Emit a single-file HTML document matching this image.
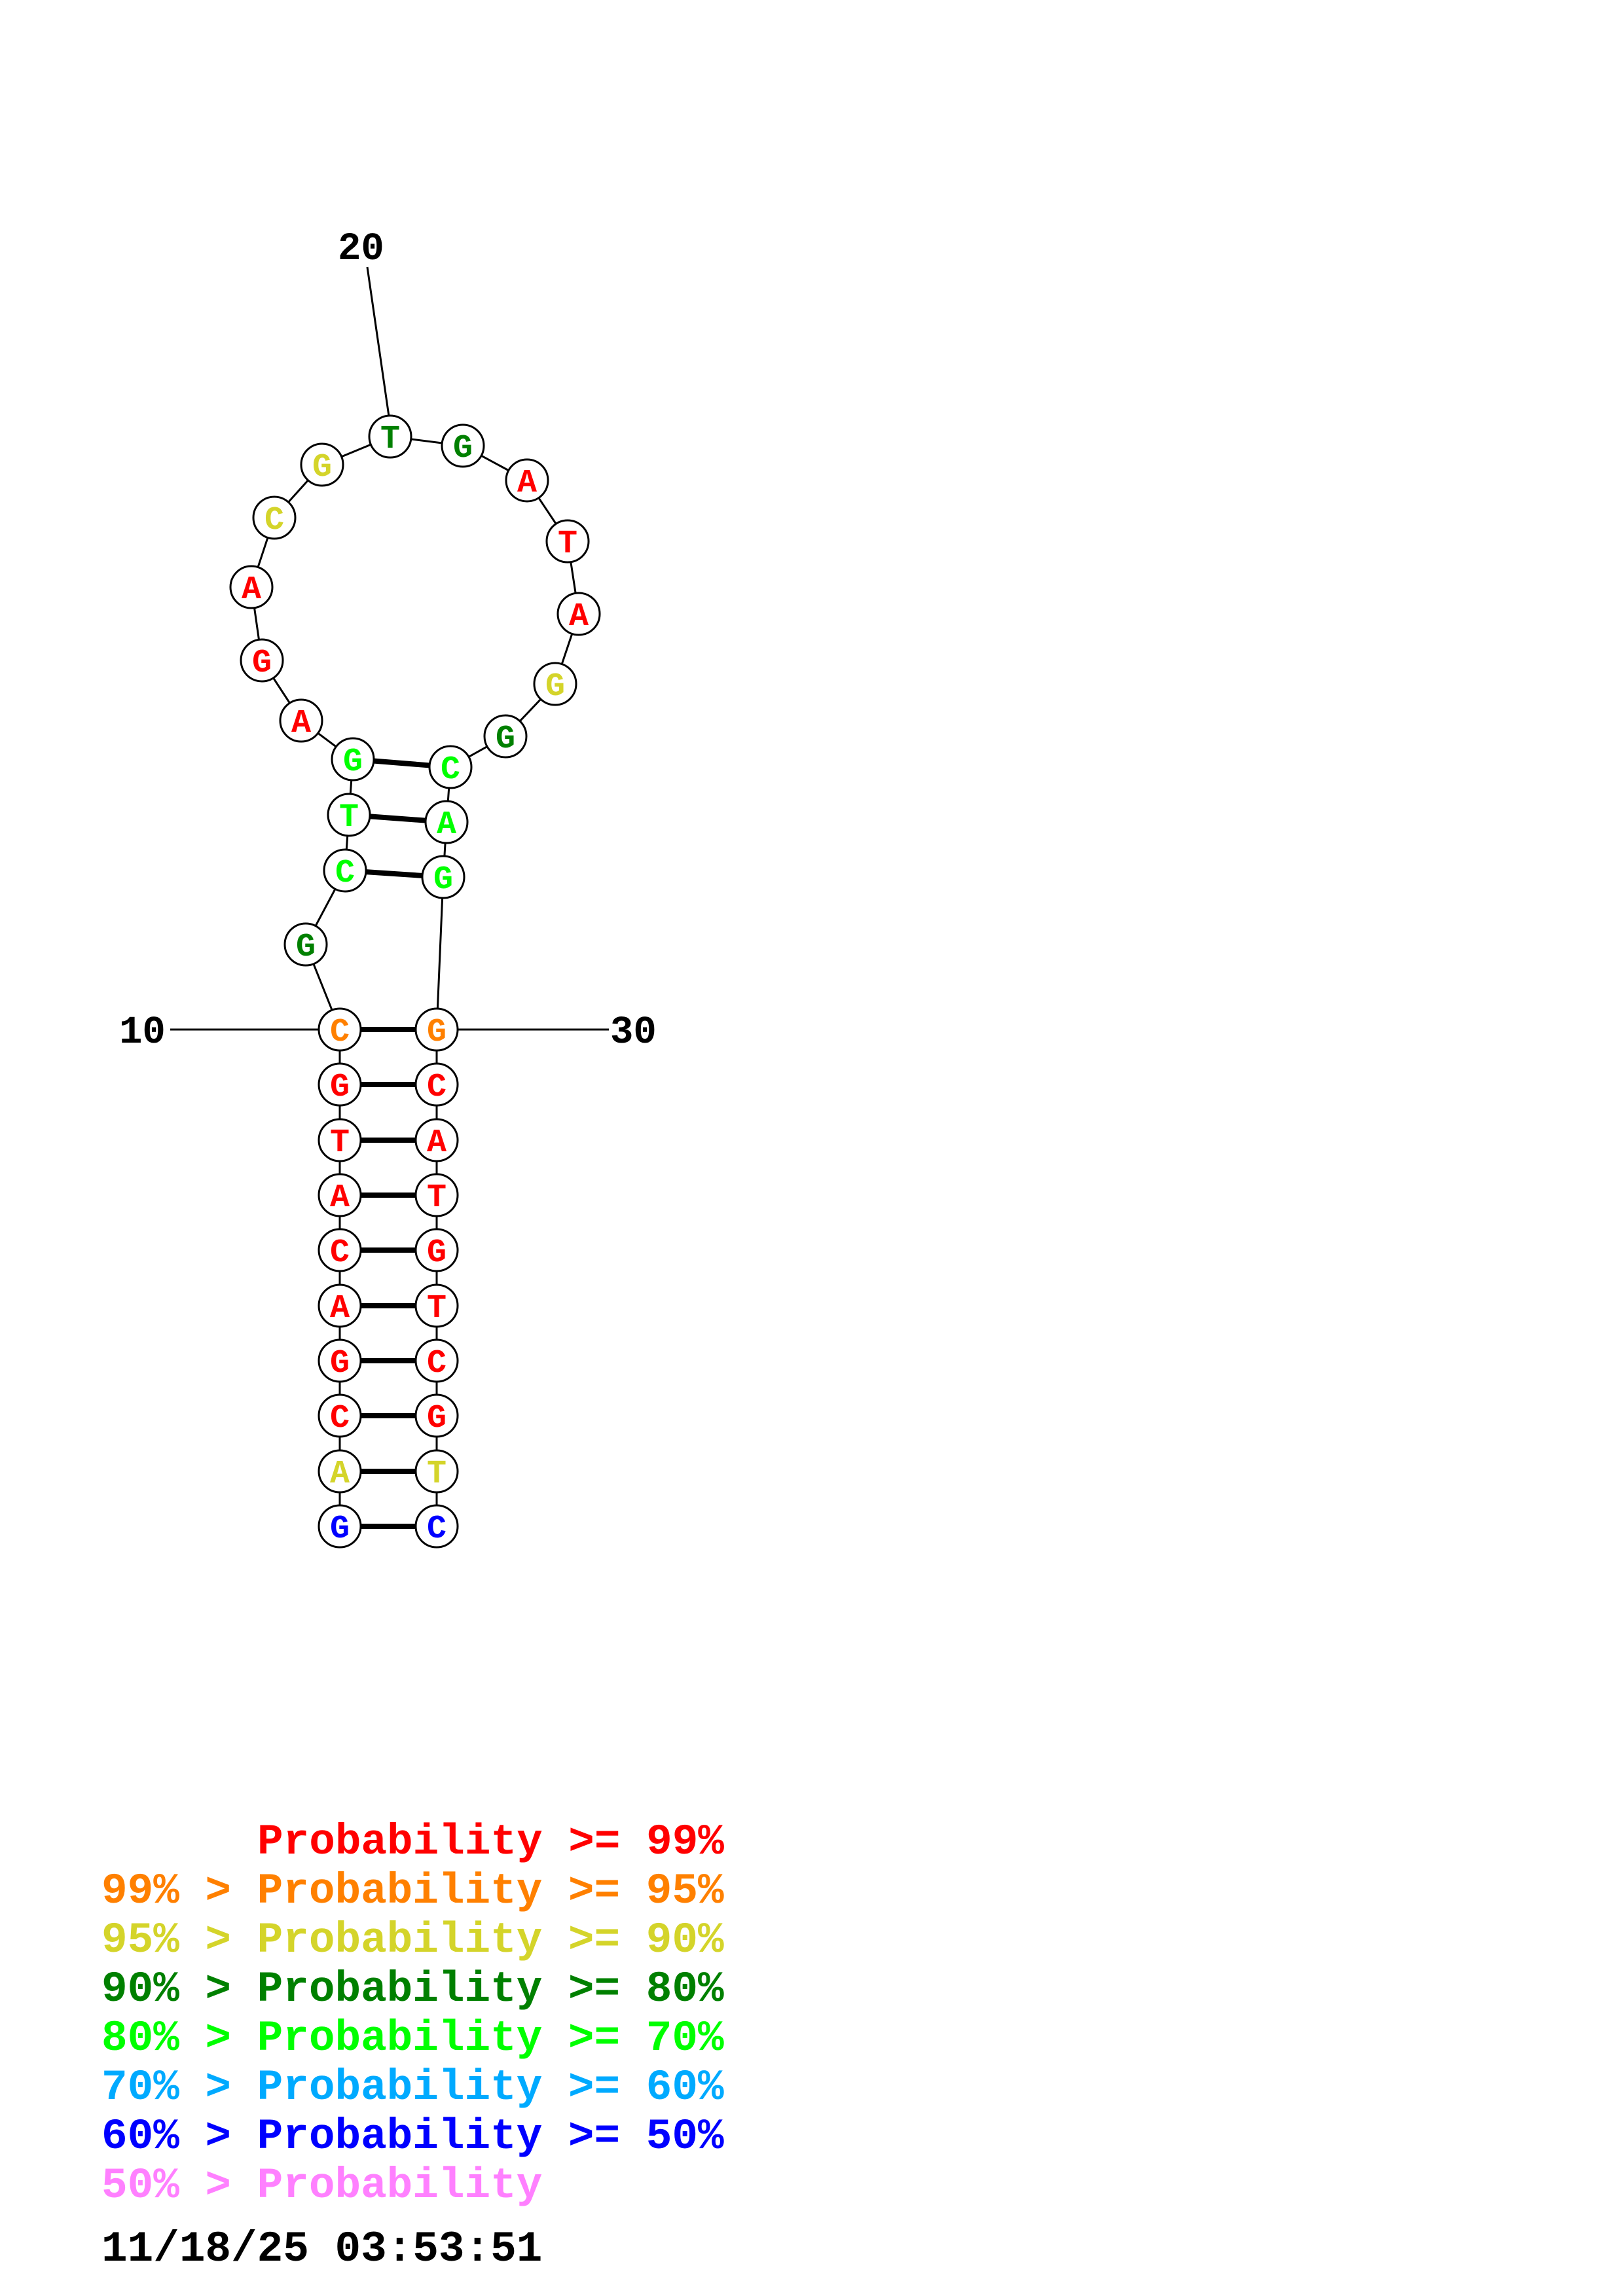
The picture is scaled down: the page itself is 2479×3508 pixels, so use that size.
<!DOCTYPE html>
<html><head><meta charset="utf-8"><style>
html,body{margin:0;padding:0;background:#fff;}
svg{display:block;}
text{font-family:"Liberation Mono",monospace;font-weight:bold;}
</style></head><body>
<svg width="2479" height="3508" viewBox="0 0 2479 3508" xmlns="http://www.w3.org/2000/svg">
<g stroke="#000" stroke-width="3" fill="none">
<line x1="561" y1="408" x2="594" y2="636"/>
<line x1="260" y1="1573" x2="488" y2="1573"/>
<line x1="700" y1="1573" x2="930" y2="1573"/>
<polyline points="519,2332 519,1573 467,1443 527,1330 533,1245 539,1160 460,1101 400,1009 384,897 419,791 492,710 596,667 707,681 805,734 867,827 884,938 848,1045 772,1125 688,1172 682,1256 677,1340 667,1573 667,2332"/>
</g>
<g stroke="#000" stroke-width="8">
<line x1="519" y1="1573" x2="667" y2="1573"/>
<line x1="519" y1="1657" x2="667" y2="1657"/>
<line x1="519" y1="1742" x2="667" y2="1742"/>
<line x1="519" y1="1826" x2="667" y2="1826"/>
<line x1="519" y1="1910" x2="667" y2="1910"/>
<line x1="519" y1="1995" x2="667" y2="1995"/>
<line x1="519" y1="2079" x2="667" y2="2079"/>
<line x1="519" y1="2163" x2="667" y2="2163"/>
<line x1="519" y1="2248" x2="667" y2="2248"/>
<line x1="519" y1="2332" x2="667" y2="2332"/>
<line x1="527" y1="1330" x2="677" y2="1340"/>
<line x1="533" y1="1245" x2="682" y2="1256"/>
<line x1="539" y1="1160" x2="688" y2="1172"/>
</g>
<g stroke="#000" stroke-width="3" fill="#fff">
<circle cx="519" cy="1573" r="32"/><circle cx="519" cy="1657" r="32"/><circle cx="519" cy="1742" r="32"/><circle cx="519" cy="1826" r="32"/><circle cx="519" cy="1910" r="32"/><circle cx="519" cy="1995" r="32"/><circle cx="519" cy="2079" r="32"/><circle cx="519" cy="2163" r="32"/><circle cx="519" cy="2248" r="32"/><circle cx="519" cy="2332" r="32"/>
<circle cx="667" cy="1573" r="32"/><circle cx="667" cy="1657" r="32"/><circle cx="667" cy="1742" r="32"/><circle cx="667" cy="1826" r="32"/><circle cx="667" cy="1910" r="32"/><circle cx="667" cy="1995" r="32"/><circle cx="667" cy="2079" r="32"/><circle cx="667" cy="2163" r="32"/><circle cx="667" cy="2248" r="32"/><circle cx="667" cy="2332" r="32"/>
<circle cx="467" cy="1443" r="32"/><circle cx="527" cy="1330" r="32"/><circle cx="533" cy="1245" r="32"/><circle cx="539" cy="1160" r="32"/><circle cx="460" cy="1101" r="32"/><circle cx="400" cy="1009" r="32"/><circle cx="384" cy="897" r="32"/><circle cx="419" cy="791" r="32"/><circle cx="492" cy="710" r="32"/><circle cx="596" cy="667" r="32"/><circle cx="707" cy="681" r="32"/><circle cx="805" cy="734" r="32"/><circle cx="867" cy="827" r="32"/><circle cx="884" cy="938" r="32"/><circle cx="848" cy="1045" r="32"/><circle cx="772" cy="1125" r="32"/><circle cx="688" cy="1172" r="32"/><circle cx="682" cy="1256" r="32"/><circle cx="677" cy="1340" r="32"/>
</g>
<g font-size="50" text-anchor="middle">
<text x="519" y="1590" fill="#ff8000">C</text>
<text x="519" y="1674" fill="#f00">G</text>
<text x="519" y="1759" fill="#f00">T</text>
<text x="519" y="1843" fill="#f00">A</text>
<text x="519" y="1927" fill="#f00">C</text>
<text x="519" y="2012" fill="#f00">A</text>
<text x="519" y="2096" fill="#f00">G</text>
<text x="519" y="2180" fill="#f00">C</text>
<text x="519" y="2265" fill="#d4d42a">A</text>
<text x="519" y="2349" fill="#00f">G</text>
<text x="667" y="1590" fill="#ff8000">G</text>
<text x="667" y="1674" fill="#f00">C</text>
<text x="667" y="1759" fill="#f00">A</text>
<text x="667" y="1843" fill="#f00">T</text>
<text x="667" y="1927" fill="#f00">G</text>
<text x="667" y="2012" fill="#f00">T</text>
<text x="667" y="2096" fill="#f00">C</text>
<text x="667" y="2180" fill="#f00">G</text>
<text x="667" y="2265" fill="#d4d42a">T</text>
<text x="667" y="2349" fill="#00f">C</text>
<text x="467" y="1460" fill="#008000">G</text>
<text x="527" y="1347" fill="#00ff00">C</text>
<text x="533" y="1262" fill="#00ff00">T</text>
<text x="539" y="1177" fill="#00ff00">G</text>
<text x="460" y="1118" fill="#f00">A</text>
<text x="400" y="1026" fill="#f00">G</text>
<text x="384" y="914" fill="#f00">A</text>
<text x="419" y="808" fill="#d4d42a">C</text>
<text x="492" y="727" fill="#d4d42a">G</text>
<text x="596" y="684" fill="#008000">T</text>
<text x="707" y="698" fill="#008000">G</text>
<text x="805" y="751" fill="#f00">A</text>
<text x="867" y="844" fill="#f00">T</text>
<text x="884" y="955" fill="#f00">A</text>
<text x="848" y="1062" fill="#d4d42a">G</text>
<text x="772" y="1142" fill="#008000">G</text>
<text x="688" y="1189" fill="#00ff00">C</text>
<text x="682" y="1273" fill="#00ff00">A</text>
<text x="677" y="1357" fill="#00ff00">G</text>
</g>
<g font-size="59" fill="#000">
<text x="182" y="1593">10</text>
<text x="932" y="1593">30</text>
<text x="516" y="396">20</text>
</g>
<g font-size="66">
<text x="393" y="2832" fill="#ff0000">Probability &gt;= 99%</text>
<text x="155" y="2907" fill="#ff8000">99% &gt; Probability &gt;= 95%</text>
<text x="155" y="2982" fill="#d4d42a">95% &gt; Probability &gt;= 90%</text>
<text x="155" y="3057" fill="#008000">90% &gt; Probability &gt;= 80%</text>
<text x="155" y="3132" fill="#00ff00">80% &gt; Probability &gt;= 70%</text>
<text x="155" y="3207" fill="#00aaff">70% &gt; Probability &gt;= 60%</text>
<text x="155" y="3282" fill="#0000ff">60% &gt; Probability &gt;= 50%</text>
<text x="155" y="3357" fill="#ff80ff">50% &gt; Probability</text>
<text x="155" y="3454" fill="#000">11/18/25 03:53:51</text>
</g>
</svg>
</body></html>
